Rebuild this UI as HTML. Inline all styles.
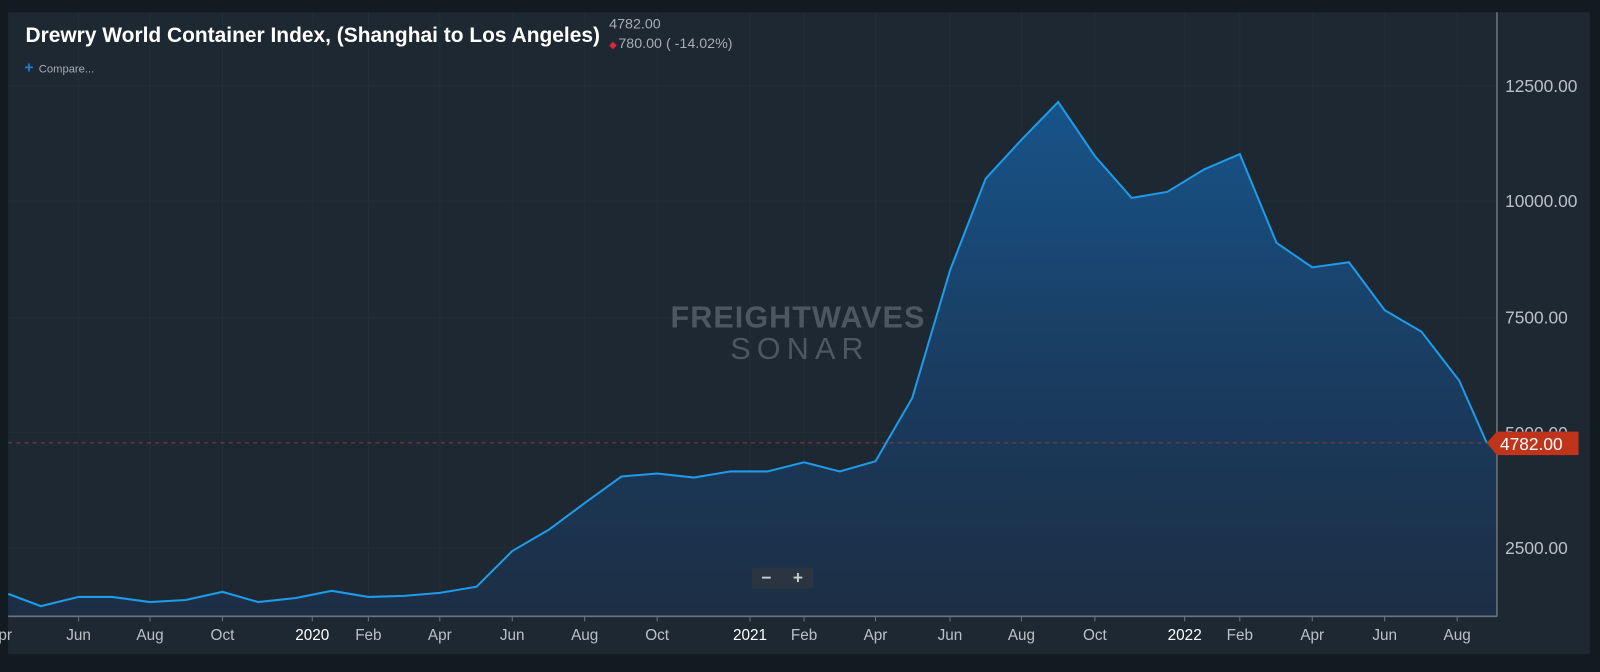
<!DOCTYPE html>
<html><head><meta charset="utf-8"><style>
html,body{margin:0;padding:0;width:1600px;height:672px;background:#131b22;overflow:hidden;font-family:"Liberation Sans",sans-serif}
</style></head><body>
<svg width="1600" height="672" xmlns="http://www.w3.org/2000/svg" style="position:absolute;left:0;top:0">
<defs><linearGradient id="g" x1="0" y1="0" x2="0" y2="1">
<stop offset="0" stop-color="#17548a"/><stop offset="0.5" stop-color="#1a3d62"/><stop offset="1" stop-color="#1c2e44"/></linearGradient></defs>
<g transform="scale(1.020408)">
<rect x="8" y="12" width="1550" height="629" fill="#1e2833"/>
<g stroke="#222e39" stroke-width="1">
<line x1="8" y1="84" x2="1467" y2="84"/><line x1="8" y1="197" x2="1467" y2="197"/><line x1="8" y1="311" x2="1467" y2="311"/><line x1="8" y1="424" x2="1467" y2="424"/><line x1="8" y1="537" x2="1467" y2="537"/>
<line x1="77" y1="12" x2="77" y2="604"/><line x1="147" y1="12" x2="147" y2="604"/><line x1="218" y1="12" x2="218" y2="604"/><line x1="306" y1="12" x2="306" y2="604"/><line x1="361" y1="12" x2="361" y2="604"/><line x1="431" y1="12" x2="431" y2="604"/><line x1="502" y1="12" x2="502" y2="604"/><line x1="573" y1="12" x2="573" y2="604"/><line x1="644" y1="12" x2="644" y2="604"/><line x1="735" y1="12" x2="735" y2="604"/><line x1="788" y1="12" x2="788" y2="604"/><line x1="858" y1="12" x2="858" y2="604"/><line x1="931" y1="12" x2="931" y2="604"/><line x1="1001" y1="12" x2="1001" y2="604"/><line x1="1073" y1="12" x2="1073" y2="604"/><line x1="1161" y1="12" x2="1161" y2="604"/><line x1="1215" y1="12" x2="1215" y2="604"/><line x1="1286" y1="12" x2="1286" y2="604"/><line x1="1357" y1="12" x2="1357" y2="604"/><line x1="1428" y1="12" x2="1428" y2="604"/>
</g>
<g font-size="30" font-weight="bold" fill="#4b5761" text-anchor="middle">
<text x="782" y="321" letter-spacing="1">FREIGHTWAVES</text>
<text x="784" y="352" font-weight="normal" font-size="30" letter-spacing="6">SONAR</text>
</g>
<polygon fill="url(#g)" points="8,582 40,594 77,585 110,585 147,590 182,588 218,580 253,590 290,586 325,579 361,585 396,584 431,581 467,575 502,540 538,519 573,493 609,467 644,464 680,468 716,462 752,462 788,453 823,462 858,452 894,390 931,265 966,175 1001,137 1037,100 1073,153 1109,194 1144,188 1180,166 1215,151 1251,238 1286,262 1322,257 1357,304 1393,325 1430,373 1457,434 1467,434 1467,604 8,604"/>
<line x1="8" y1="434" x2="1460" y2="434" stroke="#8a3a30" stroke-dasharray="4,4" stroke-width="1"/>
<polyline fill="none" stroke="#1e9be8" stroke-width="2" points="8,582 40,594 77,585 110,585 147,590 182,588 218,580 253,590 290,586 325,579 361,585 396,584 431,581 467,575 502,540 538,519 573,493 609,467 644,464 680,468 716,462 752,462 788,453 823,462 858,452 894,390 931,265 966,175 1001,137 1037,100 1073,153 1109,194 1144,188 1180,166 1215,151 1251,238 1286,262 1322,257 1357,304 1393,325 1430,373 1457,434"/>
<line x1="8" y1="604" x2="1467" y2="604" stroke="#6b747c" stroke-width="1.5"/>
<line x1="1467" y1="12" x2="1467" y2="604" stroke="#6b747c" stroke-width="1.5"/>
<g stroke="#6b747c" stroke-width="1">
<line x1="77" y1="604" x2="77" y2="609"/><line x1="147" y1="604" x2="147" y2="609"/><line x1="218" y1="604" x2="218" y2="609"/><line x1="306" y1="604" x2="306" y2="609"/><line x1="361" y1="604" x2="361" y2="609"/><line x1="431" y1="604" x2="431" y2="609"/><line x1="502" y1="604" x2="502" y2="609"/><line x1="573" y1="604" x2="573" y2="609"/><line x1="644" y1="604" x2="644" y2="609"/><line x1="735" y1="604" x2="735" y2="609"/><line x1="788" y1="604" x2="788" y2="609"/><line x1="858" y1="604" x2="858" y2="609"/><line x1="931" y1="604" x2="931" y2="609"/><line x1="1001" y1="604" x2="1001" y2="609"/><line x1="1073" y1="604" x2="1073" y2="609"/><line x1="1161" y1="604" x2="1161" y2="609"/><line x1="1215" y1="604" x2="1215" y2="609"/><line x1="1286" y1="604" x2="1286" y2="609"/><line x1="1357" y1="604" x2="1357" y2="609"/><line x1="1428" y1="604" x2="1428" y2="609"/>
</g>
<g fill="#b9c1c8" font-size="17" text-anchor="start">
<text x="1475" y="90">12500.00</text><text x="1475" y="203">10000.00</text><text x="1475" y="317">7500.00</text><text x="1475" y="430">5000.00</text><text x="1475" y="543">2500.00</text>
</g>
<polygon points="1457,434 1467,423 1547,423 1547,446 1467,446" fill="#c0341c"/>
<text x="1470" y="441" fill="#fff" font-size="17">4782.00</text>
<g fill="#b9c1c8" font-size="15" text-anchor="middle">
<text x="5" y="627">pr</text><text x="77" y="627">Jun</text><text x="147" y="627">Aug</text><text x="218" y="627">Oct</text><text x="306" y="627" fill="#fff">2020</text><text x="361" y="627">Feb</text><text x="431" y="627">Apr</text><text x="502" y="627">Jun</text><text x="573" y="627">Aug</text><text x="644" y="627">Oct</text><text x="735" y="627" fill="#fff">2021</text><text x="788" y="627">Feb</text><text x="858" y="627">Apr</text><text x="931" y="627">Jun</text><text x="1001" y="627">Aug</text><text x="1073" y="627">Oct</text><text x="1161" y="627" fill="#fff">2022</text><text x="1215" y="627">Feb</text><text x="1286" y="627">Apr</text><text x="1357" y="627">Jun</text><text x="1428" y="627">Aug</text>
</g>
<rect x="737" y="556" width="60" height="21" rx="2" fill="#2a3541"/>
<text x="751" y="572" fill="#c8ced4" font-size="17" font-weight="bold" text-anchor="middle">−</text>
<text x="782" y="572" fill="#c8ced4" font-size="17" font-weight="bold" text-anchor="middle">+</text>
<text x="25" y="41" fill="#fff" font-size="21" font-weight="bold" textLength="563" lengthAdjust="spacingAndGlyphs">Drewry World Container Index, (Shanghai to Los Angeles)</text>
<text x="597" y="28" fill="#a6adb4" font-size="14">4782.00</text>
<text x="597" y="47" fill="#e0243a" font-size="10">◆</text>
<text x="606" y="47" fill="#a6adb4" font-size="14">780.00 ( -14.02%)</text>
<text x="24" y="71" fill="#1e7fd8" font-size="15" font-weight="bold">+</text>
<text x="38" y="71" fill="#a6adb4" font-size="11">Compare...</text>
</g>
</svg>
</body></html>
